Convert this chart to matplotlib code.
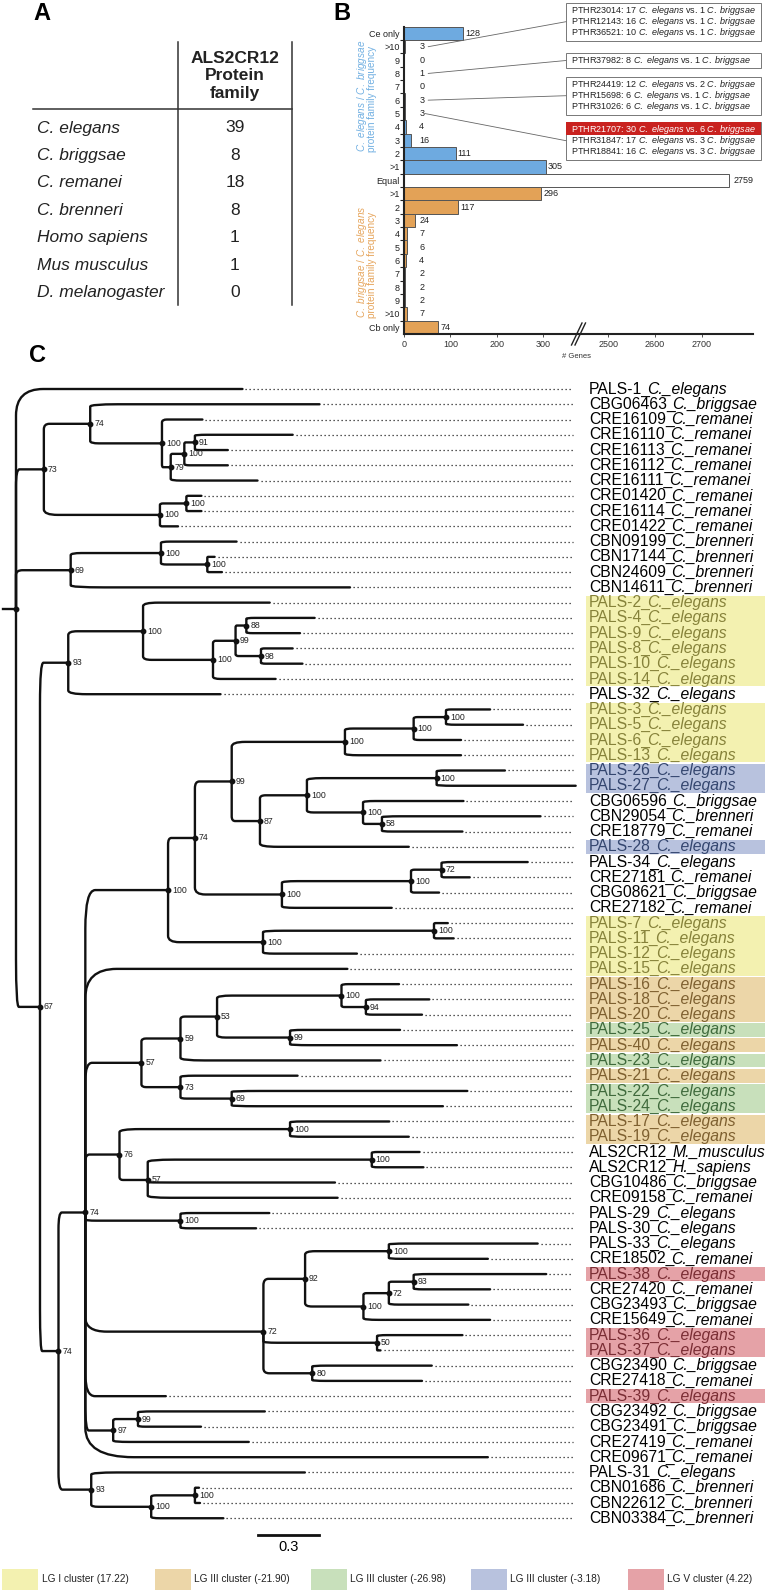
import numpy as np
import matplotlib
matplotlib.use("Agg")
import matplotlib.pyplot as plt
from matplotlib.path import Path
from matplotlib.patches import PathPatch, Rectangle, ConnectionPatch

plt.rcParams['font.family'] = ['Liberation Sans', 'DejaVu Sans']
plt.rcParams['mathtext.fontset'] = 'custom'
plt.rcParams['mathtext.rm'] = 'Liberation Sans'
plt.rcParams['mathtext.it'] = 'Liberation Sans:italic'
plt.rcParams['mathtext.bf'] = 'Liberation Sans:bold'

# ---------------- panel A data
species = ['C. elegans', 'C. briggsae', 'C. remanei', 'C. brenneri',
           'Homo sapiens', 'Mus musculus', 'D. melanogaster']
family_counts = [39, 8, 18, 8, 1, 1, 0]

# ---------------- panel B data
freq_labels = ['Ce only', '>10', '9', '8', '7', '6', '5', '4', '3', '2', '>1',
               'Equal',
               '>1', '2', '3', '4', '5', '6', '7', '8', '9', '>10', 'Cb only']
freq_values = [128, 3, 0, 1, 0, 3, 3, 4, 16, 111, 305,
               2759,
               296, 117, 24, 7, 6, 4, 2, 2, 2, 7, 74]
freq_side = ['ce'] * 11 + ['eq'] + ['cb'] * 11

# annotated rows (index into freq_labels) and their families
ann_rows = [1, 3, 5, 6]
ann_ids = [['PTHR23014', 'PTHR12143', 'PTHR36521'],
           ['PTHR37982'],
           ['PTHR24419', 'PTHR15698', 'PTHR31026'],
           ['PTHR21707', 'PTHR31847', 'PTHR18841']]
ann_ce = [[17, 16, 10], [8], [12, 6, 6], [30, 17, 16]]
ann_cb = [[1, 1, 1], [1], [2, 1, 1], [6, 3, 3]]
ann_box_top = [2.7, 52.7, 76.7, 121.7]

# ---------------- panel C data
# numbers after ':' are the node's distance from the root
tree_newick = (
    "(PALS-1_C._elegans:1.114,"
    "((CBG06463_C._briggsae:1.493,(CRE16109_C._remanei:0.917,(((CRE16110_C._remanei:1.361,"
    "CRE16113_C._remanei:1.042)91:0.880,CRE16112_C._remanei:1.042)100:0.828,"
    "CRE16111_C._remanei:1.188)79:0.761)100:0.718)74:0.365,"
    "((CRE01420_C._remanei:0.912,CRE16114_C._remanei:0.912)100:0.838,"
    "CRE01422_C._remanei:0.797)100:0.708)73:0.137,"
    "((CBN09199_C._brenneri:1.085,(CBN17144_C._brenneri:0.977,CBN24609_C._brenneri:1.013)100:0.941)100:0.713,"
    "CBN14611_C._brenneri:1.643)69:0.269,"
    "(((PALS-2_C._elegans:1.248,(((PALS-4_C._elegans:1.469,PALS-9_C._elegans:1.397)88:1.133,"
    "(PALS-8_C._elegans:1.361,PALS-10_C._elegans:1.409)98:1.205)99:1.080,"
    "PALS-14_C._elegans:1.277)100:0.969)100:0.625,PALS-32_C._elegans:1.006)93:0.257,"
    "((((((((PALS-3_C._elegans:2.332,PALS-5_C._elegans:2.494)100:2.115,PALS-6_C._elegans:2.189)100:1.956,"
    "PALS-13_C._elegans:2.189)100:1.618,"
    "(((PALS-26_C._elegans:2.405,PALS-27_C._elegans:2.753)100:2.069,"
    "(CBG06596_C._briggsae:2.201,(CBN29054_C._brenneri:2.580,CRE18779_C._remanei:2.196)58:1.800)100:1.707)100:1.431,"
    "PALS-28_C._elegans:1.932)87:1.200)99:1.061,"
    "(((PALS-34_C._elegans:2.517,CRE27181_C._remanei:2.232)72:2.093,CBG08621_C._briggsae:2.081)100:1.943,"
    "CRE27182_C._remanei:1.848)100:1.308)74:0.880,"
    "((PALS-7_C._elegans:2.124,PALS-11_C._elegans:2.153)100:2.056,PALS-12_C._elegans:1.677)100:1.215)100:0.748,"
    "PALS-15_C._elegans:1.630,"
    "((((PALS-16_C._elegans:1.884,(PALS-18_C._elegans:2.033,PALS-20_C._elegans:1.997)94:1.721)100:1.601,"
    "(PALS-25_C._elegans:1.889,PALS-40_C._elegans:2.169)99:1.348)53:0.989,PALS-23_C._elegans:1.793)59:0.809,"
    "(PALS-21_C._elegans:1.385,(PALS-22_C._elegans:2.220,PALS-24_C._elegans:2.100)69:1.061)73:0.809)57:0.617,"
    "((PALS-17_C._elegans:1.836,PALS-19_C._elegans:1.932)100:1.348,"
    "((ALS2CR12_M._musculus:1.985,ALS2CR12_H._sapiens:2.004)100:1.750,"
    "CBG10486_C._briggsae:1.569,CRE09158_C._remanei:1.582)57:0.648)76:0.509,"
    "(PALS-29_C._elegans:1.246,PALS-30_C._elegans:1.181)100:0.809,"
    "(((PALS-33_C._elegans:2.566,CRE18502_C._remanei:2.321)100:1.834,"
    "(((PALS-38_C._elegans:2.608,CRE27420_C._remanei:2.332)93:1.956,CBG23493_C._briggsae:2.225)72:1.834,"
    "CRE15649_C._remanei:2.332)100:1.709)92:1.422,"
    "(PALS-36_C._elegans:2.196,PALS-37_C._elegans:1.793)50:1.776,"
    "(CBG23490_C._briggsae:2.045,CRE27418_C._remanei:1.997)80:1.457)72:1.217,"
    "PALS-39_C._elegans:0.737,"
    "((CBG23492_C._briggsae:1.224,CBG23491_C._briggsae:0.910)99:0.600,CRE27419_C._remanei:1.145)97:0.478,"
    "CRE09671_C._remanei:2.321)74:0.341,"
    "(PALS-31_C._elegans:1.421,((CBN01686_C._brenneri:0.900,CBN22612_C._brenneri:0.905)100:0.880,"
    "CBN03384_C._brenneri:1.020)100:0.665)93:0.370)74:0.209)67:0.118):0;"
)

cluster_labels = ['LG I cluster (17.22)', 'LG III cluster (-21.90)', 'LG III cluster (-26.98)',
                  'LG III cluster (-3.18)', 'LG V cluster (4.22)']
cluster_colors = ['#f3f1b0', '#ecd6a8', '#c8e0bb', '#b8c2de', '#e5a2a7']
cluster_text_colors = ['#86823a', '#7e6030', '#3f6a3c', '#34466f', '#7a2d34']
cluster_members = [
    ['PALS-2', 'PALS-4', 'PALS-9', 'PALS-8', 'PALS-10', 'PALS-14', 'PALS-3', 'PALS-5',
     'PALS-6', 'PALS-13', 'PALS-7', 'PALS-11', 'PALS-12', 'PALS-15'],
    ['PALS-16', 'PALS-18', 'PALS-20', 'PALS-40', 'PALS-21', 'PALS-17', 'PALS-19'],
    ['PALS-25', 'PALS-23', 'PALS-22', 'PALS-24'],
    ['PALS-26', 'PALS-27', 'PALS-28'],
    ['PALS-38', 'PALS-36', 'PALS-37', 'PALS-39'],
]
scale_bar_len = 0.3

# ---------------- figure
W, H = 765, 1593
fig = plt.figure(figsize=(W / 100, H / 100), dpi=100)


def px_axes(x0, y0, x1, y1, **kw):
    return fig.add_axes([x0 / W, 1 - y1 / H, (x1 - x0) / W, (y1 - y0) / H], **kw)


# ================= panel C (tree)
ROOT_PX, PX_PER_UNIT = 16, 203.3
ROW0_PX, ROW_PX = 389, 15.26
TOP_C, BOT_C = 365, 1560
axt = px_axes(0, TOP_C, W, BOT_C)
axt.set_xlim(-ROOT_PX / PX_PER_UNIT, (W - ROOT_PX) / PX_PER_UNIT)
axt.set_ylim((BOT_C - ROW0_PX) / ROW_PX, (TOP_C - ROW0_PX) / ROW_PX)
axt.axis('off')


def parse_newick(s):
    s = s.replace(' ', '').rstrip(';')
    pos = 0

    def node():
        nonlocal pos
        nd = {'children': [], 'name': '', 'depth': 0.0}
        if s[pos] == '(':
            pos += 1
            while True:
                nd['children'].append(node())
                if s[pos] == ',':
                    pos += 1
                else:
                    pos += 1
                    break
        st = pos
        while pos < len(s) and s[pos] not in ',():':
            pos += 1
        nd['name'] = s[st:pos]
        if pos < len(s) and s[pos] == ':':
            pos += 1
            st = pos
            while pos < len(s) and s[pos] not in ',()':
                pos += 1
            nd['depth'] = float(s[st:pos])
        return nd
    return node()


tree = parse_newick(tree_newick)
leaves = []


def assign_y(nd):
    if not nd['children']:
        nd['y'] = len(leaves)
        leaves.append(nd)
    else:
        for c in nd['children']:
            assign_y(c)
        nd['y'] = np.mean([c['y'] for c in nd['children']])


assign_y(tree)

LINE_C = '#111111'
CURV = 0.12
DOT_END = (573 - ROOT_PX) / PX_PER_UNIT
LABEL_X = (589 - ROOT_PX) / PX_PER_UNIT
HL_X = (586 - ROOT_PX) / PX_PER_UNIT


def branch(xp, yp, xc, yc):
    if abs(yc - yp) < 1e-9:
        verts = [(xp, yp), (xc, yc)]
        codes = [Path.MOVETO, Path.LINETO]
    else:
        ym = yc - CURV * (yc - yp)
        xm = xp + CURV * (xc - xp)
        verts = [(xp, yp), (xp, ym), (xp, yc), (xm, yc), (xc, yc)]
        codes = [Path.MOVETO, Path.LINETO, Path.CURVE3, Path.CURVE3, Path.LINETO]
    axt.add_patch(PathPatch(Path(verts, codes), fill=False, lw=1.7, ec=LINE_C,
                            capstyle='round', joinstyle='round'))


def draw(nd):
    for c in nd['children']:
        branch(nd['depth'], nd['y'], c['depth'], c['y'])
        draw(c)
    if nd['children']:
        axt.plot(nd['depth'], nd['y'], 'o', ms=3.2, color=LINE_C, zorder=3)
        if nd['name']:
            axt.text(nd['depth'] + 4 / PX_PER_UNIT, nd['y'], nd['name'], fontsize=6.3,
                     va='center', ha='left', color='#222222')
    else:
        if nd['depth'] < DOT_END:
            axt.plot([nd['depth'] + 3 / PX_PER_UNIT, DOT_END], [nd['y'], nd['y']],
                     color='#222222', lw=0.9, ls=(0, (1, 2.2)))


# root stub
axt.plot([-13 / PX_PER_UNIT, 0], [tree['y'], tree['y']], color=LINE_C, lw=1.7)
draw(tree)

# cluster lookup
leaf_cluster = {}
for ci, members in enumerate(cluster_members):
    for m in members:
        leaf_cluster[m] = ci

# highlight runs
k = 0
while k < len(leaves):
    ci = leaf_cluster.get(leaves[k]['name'].split('_')[0])
    if ci is None:
        k += 1
        continue
    k1 = k
    while k1 + 1 < len(leaves) and leaf_cluster.get(leaves[k1 + 1]['name'].split('_')[0]) == ci:
        k1 += 1
    axt.add_patch(Rectangle((HL_X, k - 0.5 + 0.05), 5, k1 - k + 1 - 0.1,
                            fc=cluster_colors[ci], ec='none', zorder=0))
    k = k1 + 1

for nd in leaves:
    pre, sp = nd['name'].split('_', 1)
    ci = leaf_cluster.get(pre)
    col = 'black' if ci is None else cluster_text_colors[ci]
    t1 = axt.text(LABEL_X, nd['y'], pre + '_', fontsize=11.3, va='center', ha='left', color=col)
    axt.annotate(sp, xy=(1, 0), xycoords=t1, xytext=(-2.6, 0), textcoords='offset points',
                 va='bottom', ha='left', fontsize=11.3, style='italic', color=col)

# scale bar
sb_x0 = (258.5 - ROOT_PX) / PX_PER_UNIT
sb_y = (1535 - ROW0_PX) / ROW_PX
axt.plot([sb_x0, sb_x0 + scale_bar_len], [sb_y, sb_y], color=LINE_C, lw=2)
axt.text(sb_x0 + scale_bar_len / 2, sb_y + 0.35, f'{scale_bar_len}', fontsize=10.5,
         ha='center', va='top')

# ================= panel B (bars with broken axis)
B_TOP, B_BOT = 26.67, 334
BREAK_PX = 578
axL = px_axes(404, B_TOP, BREAK_PX, B_BOT)
axR = px_axes(BREAK_PX, B_TOP, 753, B_BOT)
axL.set_xlim(0, 375)
axR.set_xlim(2435, 2810)
rows = np.arange(len(freq_values))
side_fc = {'ce': '#6eaae0', 'eq': 'white', 'cb': '#e3a257'}
fcs = [side_fc[s] for s in freq_side]
for a in (axL, axR):
    a.barh(rows, freq_values, height=1.0, color=fcs, edgecolor='#555555', lw=0.7)
    a.set_ylim(len(rows) - 0.5, -0.5)
    a.spines['top'].set_visible(False)
    a.spines['right'].set_visible(False)
    a.spines['bottom'].set_linewidth(1.5)
    a.spines['bottom'].set_color('#222222')
    a.tick_params(axis='x', labelsize=6.5, length=2, width=0.6, pad=2, colors='#333333')
    a.patch.set_visible(False)
axL.spines['left'].set_linewidth(1.5)
axL.spines['left'].set_color('#222222')
axL.set_xticks([0, 100, 200, 300])
axR.set_xticks([2500, 2600, 2700])
axL.set_yticks(rows)
axL.set_yticklabels(freq_labels)
axL.set_yticks(rows[:-1] + 0.5, minor=True)
axL.tick_params(axis='y', which='major', length=0, labelsize=6.5, pad=3, colors='#222222')
axL.tick_params(axis='y', which='minor', length=3, width=0.8, color='#222222')
axR.spines['left'].set_visible(False)
axR.set_yticks([])

for r, v, s in zip(rows, freq_values, freq_side):
    if s == 'eq':
        axR.text(v + 10, r, str(v), fontsize=6.5, va='center', ha='left', color='#222222')
    else:
        axL.text(max(v, 28) + 5, r, str(v), fontsize=6.5, va='center', ha='left', color='#222222')

# ================= overlay for panel A, labels, boxes, legend
ov = px_axes(0, 0, W, H)
ov.set_xlim(0, W)
ov.set_ylim(H, 0)
ov.axis('off')
ov.patch.set_visible(False)

for lab, (x, y) in zip('ABC', [(33, 14), (333, 13), (29, 356)]):
    ov.text(x, y, lab, fontsize=17, fontweight='bold', va='center', ha='left')

# panel A table
ov.plot([178, 178], [42, 305], color='#333333', lw=1.1)
ov.plot([292, 292], [42, 305], color='#333333', lw=1.1)
ov.plot([33, 292], [109, 109], color='#333333', lw=1.1)
ov.text(235, 76, 'ALS2CR12\nProtein\nfamily', fontsize=12.5, fontweight='bold',
        ha='center', va='center', linespacing=1.2, color='#222222')
for i, (sp, n) in enumerate(zip(species, family_counts)):
    y = 128 + 27.45 * i
    ov.text(37, y, sp, fontsize=12.5, style='italic', va='center', ha='left', color='#222222')
    ov.text(235, y, str(n), fontsize=12.5, va='center', ha='center', color='#222222')

# panel B axis titles
blue_t, orange_t = '#72b0e2', '#e6a55c'
for x, txt in [(361.7, r'$\mathit{C.\ elegans}$ / $\mathit{C.\ briggsae}$'),
               (371.7, 'protein family frequency')]:
    ov.text(x, 151.7, txt, rotation=90, fontsize=7.2, ha='center', va='bottom', color=blue_t)
for x, txt in [(361.7, r'$\mathit{C.\ briggsae}$ / $\mathit{C.\ elegans}$'),
               (371.7, 'protein family frequency')]:
    ov.text(x, 318, txt, rotation=90, fontsize=7.2, ha='center', va='bottom', color=orange_t)
ov.text(577, 356, '# Genes', fontsize=5.5, ha='center', va='center', color='#333333')
for dx in (0, 3.5):
    ov.plot([571.5 + dx, 582 + dx], [345, 323], color='#222222', lw=1.0)

# annotation boxes
BOX_X0, BOX_X1, LINE_H = 566, 760.7, 11.2
for bi, (r, ids, ces, cbs, top) in enumerate(zip(ann_rows, ann_ids, ann_ce, ann_cb, ann_box_top)):
    h = LINE_H * len(ids) + 4.4
    ov.add_patch(Rectangle((BOX_X0, top), BOX_X1 - BOX_X0, h, fc='white', ec='#777777', lw=0.7))
    for li, (pid, ce, cb) in enumerate(zip(ids, ces, cbs)):
        y = top + 7.8 + LINE_H * li
        col = '#222222'
        if bi == 3 and li == 0:
            ov.add_patch(Rectangle((BOX_X0, top), BOX_X1 - BOX_X0, 13.4, fc='#c9221f', ec='none'))
            col = 'white'
        ov.text(570.7, y, f'{pid}: {ce} ' + r'$\mathit{C.\ elegans}$' + f' vs. {cb} '
                + r'$\mathit{C.\ briggsae}$', fontsize=6.5, va='center', ha='left', color=col)
    con = ConnectionPatch(xyA=(45 if r == 6 else 52, r), coordsA=axL.transData,
                          xyB=(BOX_X0, top + h / 2), coordsB=ov.transData,
                          color='#666666', lw=0.6)
    ov.add_artist(con)

# legend
leg_x = [2.4, 155, 311, 471, 628]
for x, lab, c in zip(leg_x, cluster_labels, cluster_colors):
    ov.add_patch(Rectangle((x, 1569), 35.6, 21, fc=c, ec='none'))
    ov.text(x + 39.5, 1579.5, lab, fontsize=7.3, va='center', ha='left', color='#222222')

fig.savefig('out.png', dpi=100)
